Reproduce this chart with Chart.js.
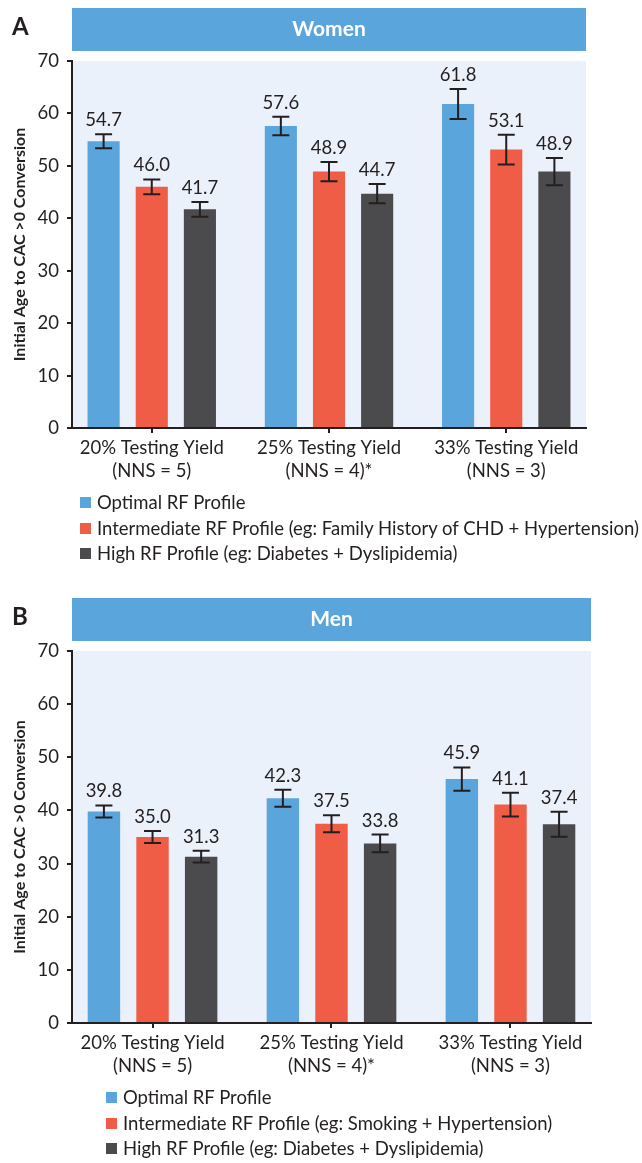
<!DOCTYPE html>
<html>
<head>
<meta charset="utf-8">
<script src="https://cdn.jsdelivr.net/npm/chart.js@4.4.0/dist/chart.umd.min.js"></script>
<style>
    body { margin: 0; background: #fff; font-family: Lato, sans-serif; color: #231F20; }
    .panel { position: absolute; left: 0; width: 642px; }
    #panelA { top: 0; height: 590px; }
    #panelB { top: 590px; height: 573px; }
    .legend { position: absolute; font-size: 18.5px; line-height: 25.5px; }
    .legend div { white-space: nowrap; display: flex; align-items: center; }
    .legend .sw { display: inline-block; width: 11px; height: 11px; margin-right: 6px; }
</style>
</head>
<body>
<div class="panel" id="panelA">
    <canvas id="chartA" width="642" height="590"></canvas>
    <div class="legend" id="legendA" style="left:80px; top:490px;"></div>
</div>
<div class="panel" id="panelB">
    <canvas id="chartB" width="642" height="573"></canvas>
    <div class="legend" id="legendB" style="left:106px; top:495px;"></div>
</div>
<script>
// categorias do eixo x
const groupLabels = [
    ['20% Testing Yield', '(NNS = 5)'],
    ['25% Testing Yield', '(NNS = 4)*'],
    ['33% Testing Yield', '(NNS = 3)']
];
const yTicks = [0, 10, 20, 30, 40, 50, 60, 70];

// Mulheres
const womenOptimal = [54.7, 57.6, 61.8];
const womenIntermediate = [46.0, 48.9, 53.1];
const womenHigh = [41.7, 44.7, 48.9];
const womenOptimalErr = [1.35, 1.75, 2.85];
const womenIntermediateErr = [1.4, 1.85, 2.85];
const womenHighErr = [1.4, 1.85, 2.6];

// Homens
const menOptimal = [39.8, 42.3, 45.9];
const menIntermediate = [35.0, 37.5, 41.1];
const menHigh = [31.3, 33.8, 37.4];
const menOptimalErr = [1.15, 1.6, 2.2];
const menIntermediateErr = [1.15, 1.6, 2.25];
const menHighErr = [1.1, 1.65, 2.35];

const womenLegend = [
    'Optimal RF Profile',
    'Intermediate RF Profile (eg: Family History of CHD + Hypertension)',
    'High RF Profile (eg: Diabetes + Dyslipidemia)'
];
const menLegend = [
    'Optimal RF Profile',
    'Intermediate RF Profile (eg: Smoking + Hypertension)',
    'High RF Profile (eg: Diabetes + Dyslipidemia)'
];

const colors = ['#5AA5DC', '#EF5D47', '#4B4B4D'];
const ink = '#231F20';
const font = 'Lato';

// Plugin para fundo, cabeçalho, barras de erro e rótulos
const panelDecor = {
    id: 'panelDecor',
    beforeDraw(chart, args, opts) {
        const { ctx, chartArea: a } = chart;
        ctx.save();
        ctx.fillStyle = '#EAF1FA';
        ctx.fillRect(a.left, a.top, a.right - a.left, a.bottom - a.top);
        ctx.fillStyle = '#5AA5DC';
        ctx.fillRect(a.left, a.top - 53, a.right - a.left, 43);
        ctx.fillStyle = '#fff';
        ctx.font = 'bold 21px ' + font;
        ctx.textAlign = 'center';
        ctx.textBaseline = 'middle';
        ctx.fillText(opts.title, (a.left + a.right) / 2, a.top - 31.5);
        ctx.fillStyle = ink;
        ctx.font = 'bold 24px ' + font;
        ctx.textAlign = 'left';
        ctx.textBaseline = 'alphabetic';
        ctx.fillText(opts.letter, 12, a.top - 26);
        ctx.restore();
    },
    afterDatasetsDraw(chart) {
        const { ctx } = chart;
        const yScale = chart.scales.y;
        ctx.save();
        chart.data.datasets.forEach((ds, i) => {
            const meta = chart.getDatasetMeta(i);
            meta.data.forEach((bar, j) => {
                const v = ds.data[j].y;
                const e = ds.err[j];
                const top = yScale.getPixelForValue(v + e);
                const bot = yScale.getPixelForValue(v - e);
                ctx.strokeStyle = ink;
                ctx.lineWidth = 2;
                ctx.beginPath();
                ctx.moveTo(bar.x, top); ctx.lineTo(bar.x, bot);
                ctx.moveTo(bar.x - 8.5, top); ctx.lineTo(bar.x + 8.5, top);
                ctx.moveTo(bar.x - 8.5, bot); ctx.lineTo(bar.x + 8.5, bot);
                ctx.stroke();
                ctx.fillStyle = ink;
                ctx.font = '18.5px ' + font;
                ctx.textAlign = 'center';
                ctx.textBaseline = 'alphabetic';
                ctx.fillText(v.toFixed(1), bar.x, top - 8);
            });
        });
        ctx.restore();
    }
};

function makeChart(canvasId, letter, title, series, errs, padding) {
    const ctx = document.getElementById(canvasId);
    return new Chart(ctx, {
        type: 'bar',
        data: {
            datasets: series.map((vals, i) => ({
                data: vals.map((v, j) => ({ x: j, y: v })),
                err: errs[i],
                backgroundColor: colors[i],
                borderWidth: 0,
                categoryPercentage: 0.815,
                barPercentage: 0.667
            }))
        },
        options: {
            responsive: false,
            animation: false,
            devicePixelRatio: 1,
            layout: { padding: padding },
            plugins: {
                legend: { display: false },
                tooltip: { enabled: false },
                panelDecor: { title: title, letter: letter }
            },
            scales: {
                x: {
                    type: 'linear',
                    min: -0.45,
                    max: 2.45,
                    offset: false,
                    afterBuildTicks: s => { s.ticks = groupLabels.map((_, i) => ({ value: i })); },
                    afterFit: s => { s.height = 60; },
                    ticks: {
                        callback: v => groupLabels[v],
                        color: ink,
                        font: { family: font, size: 18.5, lineHeight: 1.25 },
                        padding: 3,
                        maxRotation: 0,
                        autoSkip: false
                    },
                    grid: { offset: false, drawOnChartArea: false, tickLength: 5, color: ink, lineWidth: 2 },
                    border: { color: ink, width: 2 }
                },
                y: {
                    min: 0,
                    max: 70,
                    afterBuildTicks: s => { s.ticks = yTicks.map(v => ({ value: v })); },
                    afterFit: s => { s.width = 72; },
                    ticks: { color: ink, font: { family: font, size: 18.5 }, padding: 8 },
                    grid: { drawOnChartArea: false, tickLength: 5, color: ink, lineWidth: 2 },
                    border: { color: ink, width: 2 },
                    title: {
                        display: true,
                        text: 'Initial Age to CAC >0 Conversion',
                        color: ink,
                        font: { family: font, size: 16, weight: 'bold' },
                        padding: { top: 10, bottom: 0 }
                    }
                }
            }
        },
        plugins: [panelDecor]
    });
}

function buildLegend(id, labels) {
    const el = document.getElementById(id);
    labels.forEach((txt, i) => {
        const row = document.createElement('div');
        row.innerHTML = '<span class="sw" style="background:' + colors[i] + '"></span>' + txt;
        el.appendChild(row);
    });
}

makeChart('chartA', 'A', 'Women',
    [womenOptimal, womenIntermediate, womenHigh],
    [womenOptimalErr, womenIntermediateErr, womenHighErr],
    { top: 61, right: 56, bottom: 102, left: 0 });
makeChart('chartB', 'B', 'Men',
    [menOptimal, menIntermediate, menHigh],
    [menOptimalErr, menIntermediateErr, menHighErr],
    { top: 61, right: 51, bottom: 80, left: 0 });

buildLegend('legendA', womenLegend);
buildLegend('legendB', menLegend);
</script>
</body>
</html>
